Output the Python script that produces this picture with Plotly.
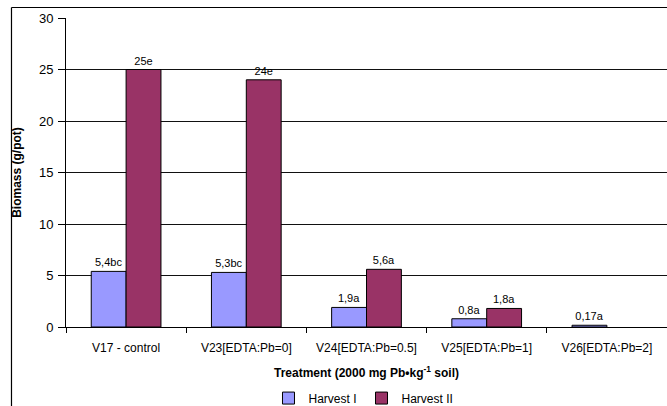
import plotly.graph_objects as go

categories = ["V17 - control", "V23[EDTA:Pb=0]", "V24[EDTA:Pb=0.5]", "V25[EDTA:Pb=1]", "V26[EDTA:Pb=2]"]
harvest1 = [5.4, 5.3, 1.9, 0.8, 0.17]
harvest1_labels = ["5,4bc", "5,3bc", "1,9a", "0,8a", "0,17a"]
harvest2 = [25, 24, 5.6, 1.8, None]
harvest2_labels = ["25e", "24e", "5,6a", "1,8a", ""]

FONT = "Arial, Liberation Sans, sans-serif"

fig = go.Figure()
fig.add_trace(go.Bar(name="Harvest I", x=categories, y=harvest1, text=harvest1_labels,
                     textposition="outside", cliponaxis=False,
                     textfont=dict(family=FONT, size=11, color="black"),
                     marker=dict(color="#9999FF", line=dict(color="black", width=1))))
fig.add_trace(go.Bar(name="Harvest II", x=categories, y=harvest2, text=harvest2_labels,
                     textposition="outside", cliponaxis=False,
                     textfont=dict(family=FONT, size=11, color="black"),
                     marker=dict(color="#993366", line=dict(color="black", width=1))))

frame = dict(color="black", width=1.2)
fig.update_layout(
    width=667, height=406,
    margin=dict(l=66, r=0, t=18, b=79, autoexpand=False),
    paper_bgcolor="white", plot_bgcolor="white",
    barmode="group", bargap=0.42, bargroupgap=0,
    font=dict(family=FONT, color="black", size=12),
    showlegend=True,
    legend=dict(orientation="h", x=0.495, xanchor="center", y=-0.23, yanchor="middle",
                font=dict(size=12), itemwidth=30, traceorder="normal", tracegroupgap=0),
    xaxis=dict(showline=True, linecolor="black", linewidth=1, ticks="outside", ticklen=5,
               tickson="boundaries", tickcolor="black", tickfont=dict(size=12),
               ticklabelstandoff=10,
               title=dict(text="<b>Treatment (2000 mg Pb•kg<sup>-1</sup> soil)</b>", font=dict(size=12), standoff=14)),
    yaxis=dict(range=[0, 30], dtick=5, showline=True, linecolor="black", linewidth=1,
               ticks="outside", ticklen=7, tickcolor="black", showgrid=True, gridcolor="#111",
               gridwidth=1, tickfont=dict(size=13), zeroline=False, ticklabelstandoff=2,
               title=dict(text="<b>Biomass (g/pot)</b>", font=dict(size=12), standoff=14)),
    shapes=[
        dict(type="line", xref="paper", yref="paper", x0=-0.0907, x1=1.05, y0=1.034, y1=1.034,
             line=frame, layer="above"),
        dict(type="line", xref="paper", yref="paper", x0=-0.0907, x1=-0.0907, y0=-0.3, y1=1.034,
             line=frame, layer="above"),
    ],
)

fig.write_html("out.html", config={"displayModeBar": False},
               post_script="document.body.style.margin='0px';")
